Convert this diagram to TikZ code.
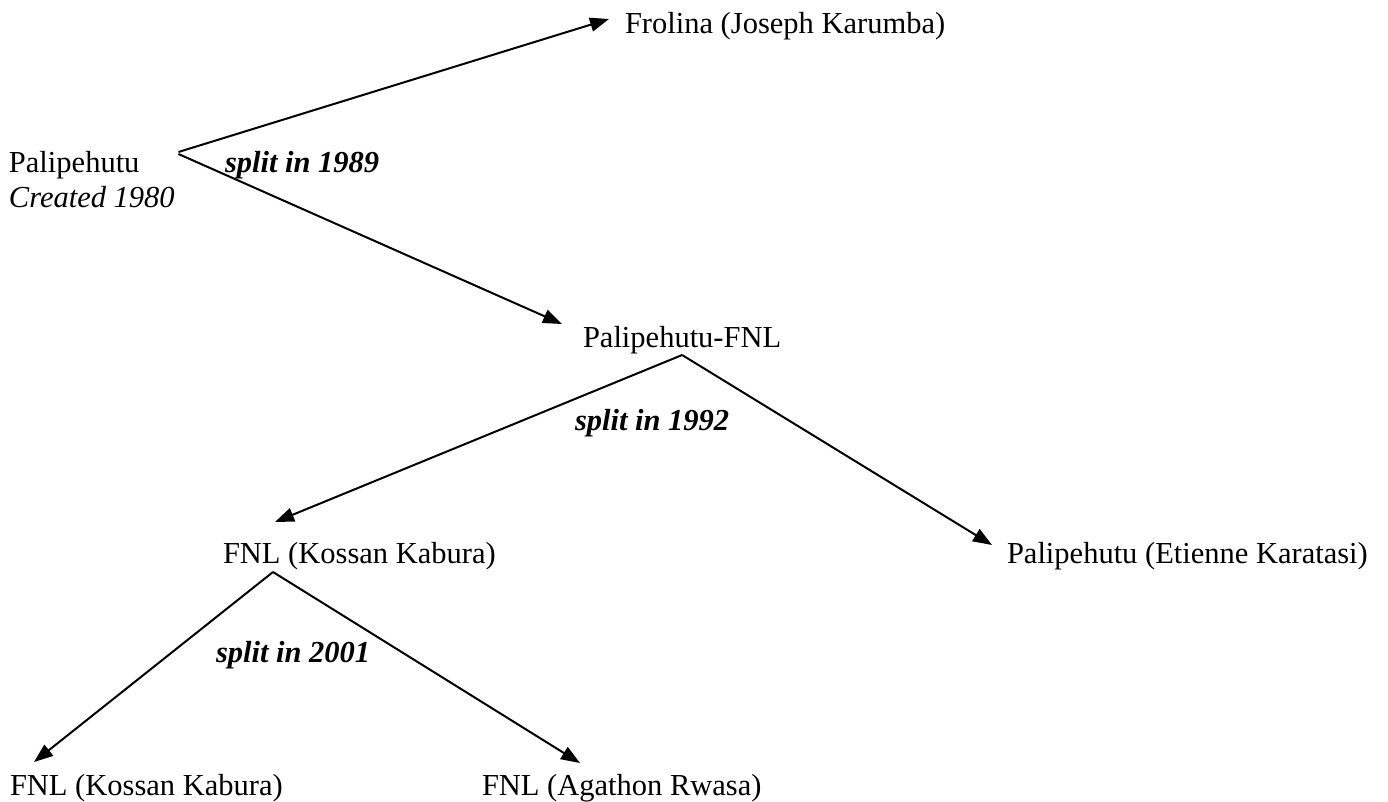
\documentclass[tikz,border=0pt]{standalone}
\usepackage{fontspec}
\setmainfont{Liberation Serif}
\usetikzlibrary{arrows.meta,calc}
\begin{document}
\begin{tikzpicture}[x=1pt,y=-1pt,
  lbl/.style={inner sep=0pt,outer sep=0pt,anchor=base west,font=\fontsize{30.5}{35}\selectfont},
  splitlbl/.style={lbl,font=\fontsize{30.5}{35}\selectfont\bfseries\itshape},
  arr/.style={line width=2pt,-{Triangle[length=19pt,width=14pt]}}]
\useasboundingbox[fill=white] (0,0) rectangle (1388,801);
% nodes
\node[lbl] (pal) at (9,172) {Palipehutu};
\node[lbl,font=\fontsize{30.5}{35}\selectfont\itshape] (created) at (9,207) {Created 1980};
\node[lbl] (fro) at (625,33) {Frolina (Joseph Karumba)};
\node[lbl] (pfnl) at (583,347) {Palipehutu-FNL};
\node[lbl] (fnlA) at (223,563) {FNL (Kossan Kabura)};
\node[lbl] (pet) at (1007,563) {Palipehutu (Etienne Karatasi)};
\node[lbl] (fnlB) at (10,795) {FNL (Kossan Kabura)};
\node[lbl] (fnlC) at (482,795) {FNL (Agathon Rwasa)};
% split labels
\node[splitlbl] (s1989) at (225,172) {split in 1989};
\node[splitlbl] (s1992) at (575,430) {split in 1992};
\node[splitlbl] (s2001) at (216,662) {split in 2001};
% connectors
\draw[arr] ($(pal.base east)+(39,-20)$) -- ($(fro.base west)+(-16,-14)$);
\draw[arr] ($(pal.base east)+(39,-18)$) -- ($(pfnl.base west)+(-21,-23)$);
\draw[arr] ($(pfnl.base)+(0,8)$) -- ($(fnlA.base west)+(52,-41)$);
\draw[arr] ($(pfnl.base)+(0,8)$) -- ($(pet.base west)+(-15,-18)$);
\draw[arr] ($(fnlA.base west)+(50,9)$) -- ($(fnlB.base west)+(24,-33)$);
\draw[arr] ($(fnlA.base west)+(50,9)$) -- ($(fnlC.base west)+(98,-32)$);
\end{tikzpicture}
\end{document}
